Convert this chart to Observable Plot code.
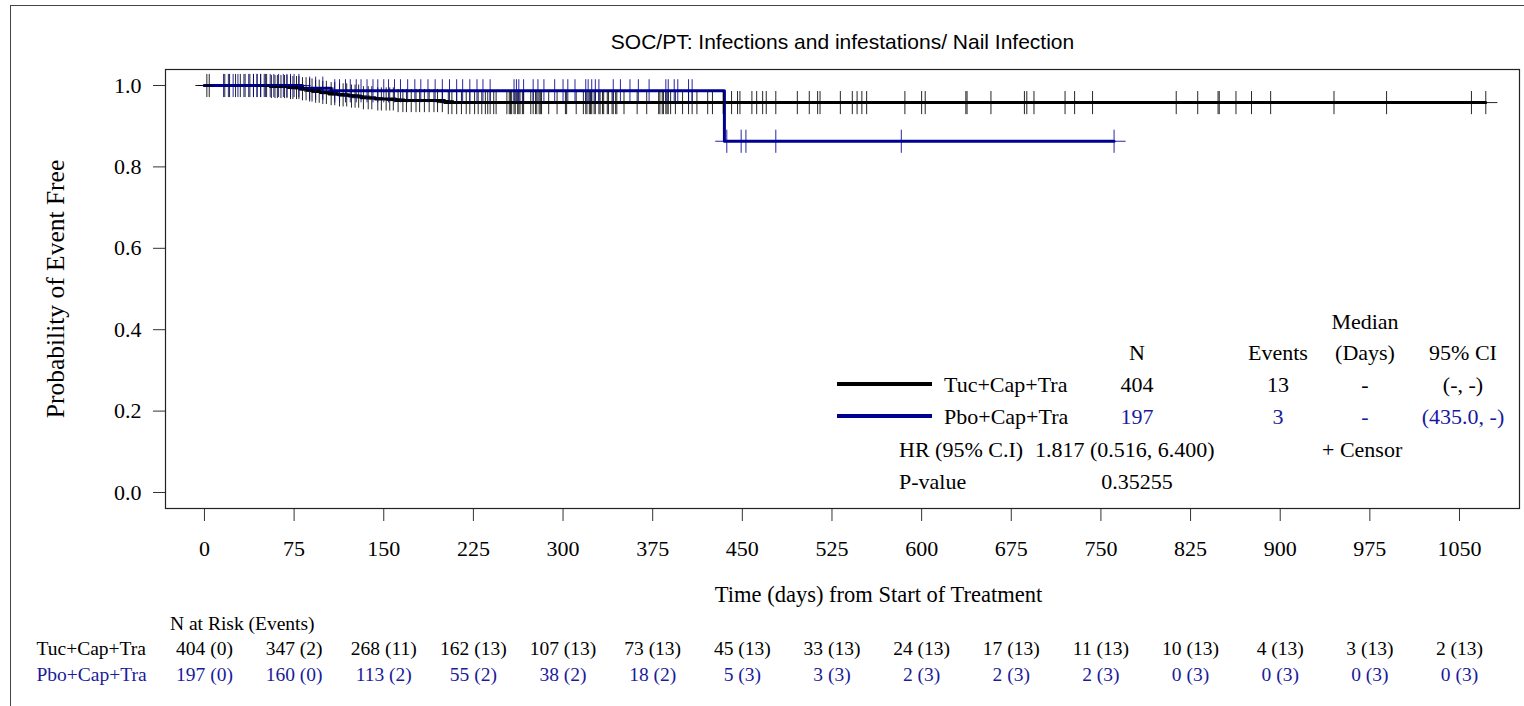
<!DOCTYPE html>
<html><head><meta charset="utf-8">
<script src="https://cdn.jsdelivr.net/npm/d3@7"></script>
<script src="https://cdn.jsdelivr.net/npm/@observablehq/plot@0.6"></script>
<style>
html,body{margin:0;padding:0;background:#fff;overflow:hidden;width:1524px;height:706px;}
#page{position:relative;width:1524px;height:706px;font-family:"Liberation Serif","Times New Roman",serif;color:#000;}
#border{position:absolute;left:10px;top:5px;width:1600px;height:800px;border:1.5px solid #444;box-sizing:border-box;}
.abs{position:absolute;white-space:nowrap;line-height:1;}
.svgwrap{position:absolute;left:0;}
</style></head><body><div id="page"><div id="border"></div></div>
<script>
// ---------- data ----------
const groups = ["Tuc+Cap+Tra", "Pbo+Cap+Tra"];
const lineColors = ["#000000", "#000090"];
const textColors = ["#000000", "#1a1a9c"];
const chartTitle = "SOC/PT: Infections and infestations/ Nail Infection";
const xLabel = "Time (days) from Start of Treatment";
const yLabel = "Probability of Event Free";
const xTicks = [0, 75, 150, 225, 300, 375, 450, 525, 600, 675, 750, 825, 900, 975, 1050];
const yTicks = [0, 0.2, 0.4, 0.6, 0.8, 1.0];

// Kaplan-Meier step vertices (time, survival)
const tucTimes = [0, 55, 70, 80, 86, 91, 97, 104, 112, 121, 131, 143, 160, 201, 1072];
const tucSurv  = [1, 0.9975, 0.995, 0.992, 0.989, 0.986, 0.983, 0.980, 0.977, 0.974, 0.970, 0.967, 0.963, 0.958, 0.958];
const pboTimes = [0, 82, 106, 435, 761];
const pboSurv  = [1, 0.9935, 0.987, 0.863, 0.863];

// censoring times
const tucCensor = [2, 4, 17, 21, 26, 30, 34, 38, 41, 44, 47, 50, 52, 56, 59, 61, 64, 67, 69, 72, 74, 77, 79, 82, 85, 88, 90, 93, 96, 99, 102, 106, 109, 113, 116, 119, 123, 126, 129, 133, 137, 140, 145, 148, 152, 155, 158, 162, 166, 169, 173, 177, 180, 184, 188, 192, 195, 199, 204, 207, 211, 215, 219, 222, 226, 229,
  232, 235, 237, 239, 242, 244, 253, 255, 256, 257, 259, 260, 262, 263, 264, 266, 267, 273, 275, 277, 278, 280, 281, 282, 288, 295, 302, 303, 311, 317, 319, 320, 322, 323, 324, 326, 327, 330, 331, 333, 334, 337, 338, 341, 342, 344, 345, 351, 362, 370, 380, 381, 383, 384, 386, 387, 388, 390, 394, 400, 405, 408, 412, 421, 425, 434, 441, 446, 448, 458, 462, 467, 470, 478, 496, 506, 513, 515, 532, 542, 546, 550, 554, 586, 600, 603,
  637, 638, 658, 686, 688, 694, 720, 728, 743, 813, 831, 848, 849, 863, 876, 892, 945, 989, 1060, 1072];
const pboCensor = [16, 20, 24, 28, 33, 37, 41, 44, 47, 51, 55, 58, 62, 66, 69, 72, 75, 79, 88, 93, 99, 109, 113, 118, 122, 127, 131, 136, 141, 145, 150, 154, 159, 164, 170, 176, 181, 187, 193, 199, 205, 211, 216, 222, 228,
  233, 239, 259, 261, 263, 267, 275, 279, 284, 293, 300, 304, 310, 319, 321, 324, 327, 330, 342, 348, 356, 363, 372, 386, 388, 393, 396, 405, 408,
  437, 449, 453, 478, 583, 761];

// at-risk table
const riskTimes = [0, 75, 150, 225, 300, 375, 450, 525, 600, 675, 750, 825, 900, 975, 1050];
const tucAtRisk = [404, 347, 268, 162, 107, 73, 45, 33, 24, 17, 11, 10, 4, 3, 2];
const tucEvents = [0, 2, 11, 13, 13, 13, 13, 13, 13, 13, 13, 13, 13, 13, 13];
const pboAtRisk = [197, 160, 113, 55, 38, 18, 5, 3, 2, 2, 2, 0, 0, 0, 0];
const pboEvents = [0, 0, 2, 2, 2, 2, 3, 3, 3, 3, 3, 3, 3, 3, 3];
const riskHeader = "N at Risk (Events)";

// legend / statistics table
const legendCols = ["N", "Events", "(Days)", "95% CI"];
const legendMedianHeader = "Median";
const legendN = ["404", "197"];
const legendEvents = ["13", "3"];
const legendMedian = ["-", "-"];
const legendCI = ["(-, -)", "(435.0, -)"];
const hrLabel = "HR (95% C.I)";
const hrValue = "1.817 (0.516, 6.400)";
const pLabel = "P-value";
const pValue = "0.35255";
const censorLabel = "+ Censor";

// ---------- build tables ----------
const steps = [];
tucTimes.forEach((t, i) => steps.push({group: groups[0], time: t, surv: tucSurv[i]}));
pboTimes.forEach((t, i) => steps.push({group: groups[1], time: t, surv: pboSurv[i]}));
function survAt(times, surv, t) { return surv[Math.max(0, d3.bisectRight(times, t) - 1)]; }
const censors = [];
tucCensor.forEach(t => censors.push({group: groups[0], time: t, surv: survAt(tucTimes, tucSurv, t)}));
pboCensor.forEach(t => censors.push({group: groups[1], time: t, surv: survAt(pboTimes, pboSurv, t)}));
const riskRows = [];
riskTimes.forEach((t, i) => riskRows.push({group: groups[0], time: t, label: `${tucAtRisk[i]} (${tucEvents[i]})`}));
riskTimes.forEach((t, i) => riskRows.push({group: groups[1], time: t, label: `${pboAtRisk[i]} (${pboEvents[i]})`}));

const xDomain = [-32.6, 1100.2];
const yDomain = [-0.0393, 1.0393];
const serif = "Liberation Serif";

const main = Plot.plot({
  width: 1524, height: 610,
  marginLeft: 165, marginRight: 5, marginTop: 69, marginBottom: 102,
  style: {fontFamily: serif, fontSize: "22px", background: "transparent", color: "#000", overflow: "visible"},
  x: {domain: xDomain},
  y: {domain: yDomain},
  color: {domain: groups, range: lineColors},
  marks: [
    Plot.axisX({ticks: xTicks, tickFormat: d => String(d), tickSize: 13, tickPadding: 19, stroke: "#333", label: null, fontSize: 22, fontFamily: serif}),
    Plot.axisY({ticks: yTicks, tickFormat: ".1f", tickSize: 12, tickPadding: 12, stroke: "#333", label: null, fontSize: 22, fontFamily: serif}),
    Plot.frame({stroke: "#222", strokeWidth: 1.2}),
    Plot.line(steps, {x: "time", y: "surv", z: "group", stroke: "group", curve: "step-after", strokeWidth: 3}),
    Plot.dot(censors, {x: "time", y: "surv", stroke: "group", symbol: "plus", r: 7.5, strokeWidth: 1, strokeOpacity: 0.85}),
    Plot.text([xLabel], {text: d => d, frameAnchor: "bottom", dx: 36, dy: 86, fontSize: 22.5, fontFamily: serif, lineAnchor: "middle"}),
    Plot.text([yLabel], {text: d => d, frameAnchor: "left", dx: -110, rotate: -90, fontSize: 25.5, fontFamily: serif, lineAnchor: "middle", textAnchor: "middle"}),
    Plot.text([chartTitle], {text: d => d, frameAnchor: "top", dy: -27, fontSize: 21, fontFamily: "Liberation Sans", lineAnchor: "middle"})
  ]
});
const page = document.getElementById("page");
const w1 = document.createElement("div"); w1.className = "svgwrap"; w1.style.top = "0px"; w1.appendChild(main); page.appendChild(w1);

const risk = Plot.plot({
  width: 1524, height: 52,
  marginLeft: 165, marginRight: 5, marginTop: 0, marginBottom: 0,
  style: {fontFamily: serif, fontSize: "19.5px", background: "transparent", overflow: "visible"},
  x: {domain: xDomain, axis: null},
  y: {domain: groups, axis: null, padding: 0.5},
  color: {domain: groups, range: textColors},
  marks: [
    Plot.text(riskRows, {x: "time", y: "group", text: "label", fill: "group", fontSize: 19.5}),
    Plot.text(groups, {y: d => d, text: d => d, fill: d => d, frameAnchor: "left", dx: -129, textAnchor: "start", fontSize: 19.5})
  ]
});
const w2 = document.createElement("div"); w2.className = "svgwrap"; w2.style.top = "635px"; w2.appendChild(risk); page.appendChild(w2);

// ---------- HTML overlays: at-risk header and statistics legend ----------
function addText(txt, x, yc, size, anchor, color) {
  const s = document.createElement("div");
  s.className = "abs";
  s.textContent = txt;
  s.style.fontSize = size + "px";
  s.style.color = color || "#000";
  s.style.top = (yc - size * 0.5) + "px";
  s.style.left = x + "px";
  if (anchor === "middle") s.style.transform = "translateX(-50%)";
  page.appendChild(s);
}
addText(riskHeader, 170, 624, 19.5, "start");

const colX = [1137, 1278, 1365, 1463];
const lg = 22;
addText(legendMedianHeader, colX[2], 322, lg, "middle");
legendCols.forEach((c, i) => addText(c, colX[i], 353, lg, "middle"));
const rowY = [385, 417];
groups.forEach((g, i) => {
  const ln = document.createElement("div");
  ln.style.cssText = `position:absolute;left:837px;width:95px;top:${rowY[i] - 3}px;height:4px;background:${lineColors[i]};`;
  page.appendChild(ln);
  addText(g, 944, rowY[i], lg, "start");
  addText(legendN[i], colX[0], rowY[i], lg, "middle", textColors[i]);
  addText(legendEvents[i], colX[1], rowY[i], lg, "middle", textColors[i]);
  addText(legendMedian[i], colX[2], rowY[i], lg, "middle", textColors[i]);
  addText(legendCI[i], colX[3], rowY[i], lg, "middle", textColors[i]);
});
addText(hrLabel, 899, 450, lg, "start");
addText(hrValue, 1035, 450, lg, "start");
addText(censorLabel, 1322, 450, lg, "start");
addText(pLabel, 899, 482, lg, "start");
addText(pValue, colX[0], 482, lg, "middle");
</script>
</body></html>
